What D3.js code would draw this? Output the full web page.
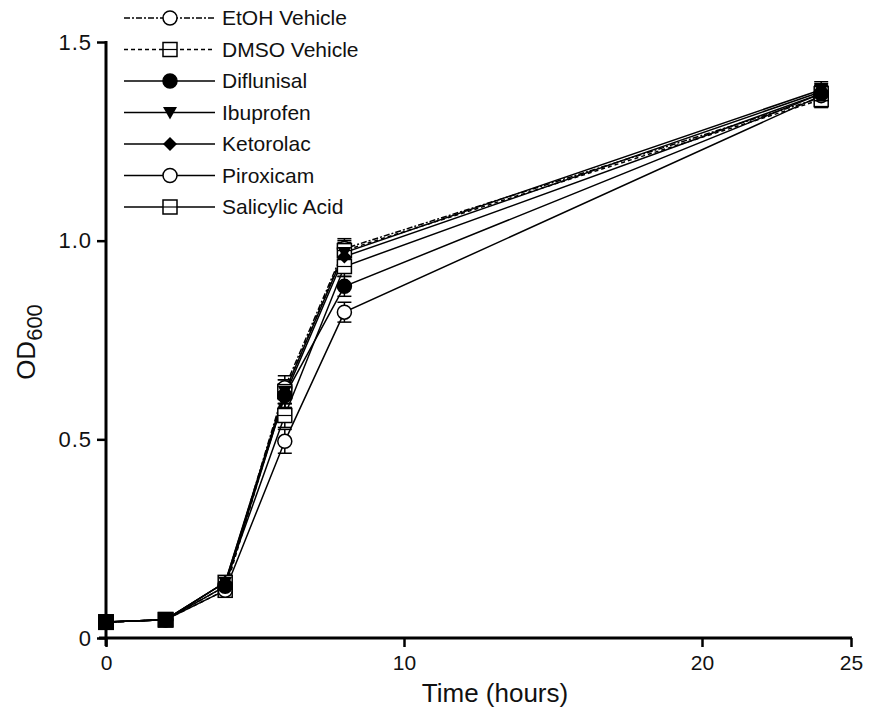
<!DOCTYPE html>
<html>
<head>
<meta charset="utf-8">
<script src="https://cdn.jsdelivr.net/npm/d3@7"></script>
<style>
  body { margin: 0; background: #fff; }
  text { font-family: "Liberation Sans", Arial, sans-serif; fill: #111; }
</style>
</head>
<body>
<svg width="869" height="715"></svg>
<script>
let hours = [0, 2, 4, 6, 8, 24]
let xTicks = [0, 10, 20, 25]
let yTicks = [0, 0.5, 1.0, 1.5]
let yTickLabels = ['0', '0.5', '1.0', '1.5']

let names = ['EtOH Vehicle', 'DMSO Vehicle', 'Diflunisal', 'Ibuprofen', 'Ketorolac', 'Piroxicam', 'Salicylic Acid']
let etoh       = [0.040, 0.046, 0.13, 0.63, 0.980, 1.360]
let dmso       = [0.040, 0.046, 0.12, 0.62, 0.975, 1.355]
let diflunisal = [0.040, 0.046, 0.13, 0.61, 0.885, 1.370]
let ibuprofen  = [0.040, 0.046, 0.14, 0.62, 0.970, 1.380]
let ketorolac  = [0.040, 0.046, 0.14, 0.61, 0.960, 1.375]
let piroxicam  = [0.040, 0.046, 0.12, 0.495, 0.820, 1.365]
let salicylic  = [0.040, 0.046, 0.14, 0.56, 0.935, 1.370]
let errors     = [0.005, 0.005, 0.015, 0.03, 0.025, 0.02]

let seriesValues = [etoh, dmso, diflunisal, ibuprofen, ketorolac, piroxicam, salicylic]
let shapes = ['circleOpen', 'squareOpen', 'circle', 'triangle', 'diamond', 'circleOpen', 'squareOpen']
let dashes = ['6,2,2,2', '4,3', null, null, null, null, null]

let svg = d3.select('svg')

let x = d3.scaleLinear().domain([0, 25]).range([106, 851])
let y = d3.scaleLinear().domain([0, 1.5]).range([638, 42])

// axes
let xAxis = svg.append('g')
    .attr('transform', 'translate(0,638)')
    .call(d3.axisBottom(x).tickValues(xTicks).tickSize(9).tickSizeOuter(0).tickFormat(d3.format('d')))
xAxis.select('.domain').attr('stroke-width', 3).attr('d', 'M99,0H852')
xAxis.selectAll('.tick line').attr('stroke-width', 2.5)
xAxis.selectAll('.tick text').attr('font-size', 21).attr('dy', '0.95em')
    .style('font-family', '"Liberation Sans Narrow", "Liberation Sans", Arial, sans-serif')

let yAxis = svg.append('g')
    .attr('transform', 'translate(106,0)')
    .call(d3.axisLeft(y).tickValues(yTicks).tickSize(9).tickSizeOuter(0).tickFormat((d, i) => yTickLabels[i]))
yAxis.select('.domain').attr('stroke-width', 3).attr('d', 'M0,41V646')
yAxis.selectAll('.tick line').attr('stroke-width', 2.5)
yAxis.selectAll('.tick text').attr('font-size', 22).attr('x', -14).attr('letter-spacing', 1)

svg.append('text')
    .attr('x', 495).attr('y', 702)
    .attr('text-anchor', 'middle')
    .attr('font-size', 26)
    .text('Time (hours)')

let ylab = svg.append('text')
    .attr('transform', 'translate(35,342) rotate(-90)')
    .attr('text-anchor', 'middle')
    .attr('font-size', 26)
ylab.append('tspan').text('OD')
ylab.append('tspan').attr('font-size', 22).attr('dy', 7).text('600')

function drawMarker(g, shape, size) {
    let s = size / 2
    if (shape == 'circle' || shape == 'circleOpen') {
        g.append('circle').attr('r', s)
            .attr('fill', shape == 'circle' ? '#000' : '#fff')
            .attr('stroke', '#000').attr('stroke-width', 1.5)
    } else if (shape == 'squareOpen') {
        g.append('rect').attr('x', -s).attr('y', -s).attr('width', size).attr('height', size)
            .attr('fill', '#fff').attr('stroke', '#000').attr('stroke-width', 1.5)
        g.append('line').attr('x1', -s).attr('x2', s).attr('stroke', '#000').attr('stroke-width', 1.2)
    } else if (shape == 'triangle') {
        g.append('path').attr('d', `M${-s},${-s * 0.8}L${s},${-s * 0.8}L0,${s}Z`).attr('fill', '#000')
    } else if (shape == 'diamond') {
        g.append('path').attr('d', `M0,${-s}L${s},0L0,${s}L${-s},0Z`).attr('fill', '#000')
    }
}

let line = d3.line().x((d, i) => x(hours[i])).y(d => y(d))

let plot = svg.append('g')

// error bars
seriesValues.forEach((vals, k) => {
    vals.forEach((v, i) => {
        let e = errors[i]
        let cx = x(hours[i])
        let g = plot.append('g').attr('stroke', '#000').attr('stroke-width', 1.5)
        g.append('line').attr('x1', cx).attr('x2', cx).attr('y1', y(v - e)).attr('y2', y(v + e))
        g.append('line').attr('x1', cx - 7).attr('x2', cx + 7).attr('y1', y(v - e)).attr('y2', y(v - e))
        g.append('line').attr('x1', cx - 7).attr('x2', cx + 7).attr('y1', y(v + e)).attr('y2', y(v + e))
    })
})

// lines
seriesValues.forEach((vals, k) => {
    plot.append('path')
        .attr('d', line(vals))
        .attr('fill', 'none')
        .attr('stroke', '#000')
        .attr('stroke-width', 1.5)
        .attr('stroke-dasharray', dashes[k])
})

// markers: open ones first, filled ones on top
let order = [0, 1, 5, 6, 2, 3, 4]
order.forEach(k => {
    seriesValues[k].forEach((v, i) => {
        let g = plot.append('g').attr('transform', `translate(${x(hours[i])},${y(v)})`)
        drawMarker(g, shapes[k], 14)
    })
})
// overlapping points at the first time points read as solid squares
hours.slice(0, 2).forEach((h, i) => {
    plot.append('rect')
        .attr('x', x(h) - 8).attr('y', y(etoh[i]) - 8)
        .attr('width', 16).attr('height', 16).attr('fill', '#000')
})

// legend
let legend = svg.append('g')
names.forEach((n, k) => {
    let ly = 18 + k * 31.5
    let g = legend.append('g').attr('transform', `translate(0,${ly})`)
    g.append('line').attr('x1', 124).attr('x2', 215).attr('stroke', '#000')
        .attr('stroke-width', 1.5).attr('stroke-dasharray', dashes[k])
    let m = g.append('g').attr('transform', 'translate(170,0)')
    drawMarker(m, shapes[k], 14)
    g.append('text').attr('x', 222).attr('y', 7).attr('font-size', 21).text(n)
})
</script>
</body>
</html>
